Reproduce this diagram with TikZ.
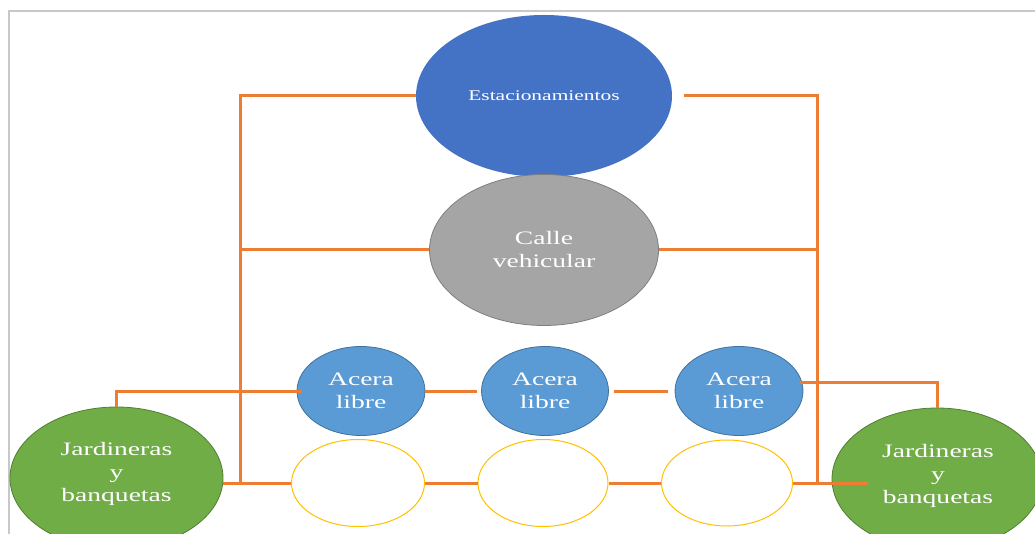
\documentclass[tikz,border=0pt]{standalone}
\usepackage{fontspec}
\setmainfont{Liberation Serif}[FakeStretch=1.45]
\usetikzlibrary{shapes.geometric,calc}
\definecolor{cBlue}{HTML}{4472C4}
\definecolor{cGrey}{HTML}{A5A5A5}
\definecolor{cGreyB}{HTML}{7F7F7F}
\definecolor{cLBlue}{HTML}{5B9BD5}
\definecolor{cLBlueB}{HTML}{41719C}
\definecolor{cGreen}{HTML}{70AD47}
\definecolor{cGreenB}{HTML}{507E32}
\definecolor{cYellow}{HTML}{FFC000}
\definecolor{cOrange}{HTML}{ED7D31}
\definecolor{cFrame}{HTML}{C8C8C8}
\tikzset{
  oval/.style={ellipse, inner sep=0pt, text=white, align=center},
  bigtxt/.style={font=\fontsize{19}{23}\selectfont},
  link/.style={draw=cOrange, line width=3pt}
}
\begin{document}
\begin{tikzpicture}[x=1pt,y=-1pt]
\useasboundingbox (0,0) rectangle (1035,534);
\draw[cFrame, line width=1.5pt] (9,534) -- (9,11) -- (1035,11);
% nodes
\node[oval, fill=cBlue, minimum width=256pt, minimum height=162pt,
      font=\fontsize{14.8}{17}\selectfont] (est) at (544,96) {Estacionamientos};
\node[oval, bigtxt, fill=cGrey, draw=cGreyB, line width=0.8pt,
      minimum width=229pt, minimum height=151pt] (calle) at (544,250) {Calle\\vehicular};
\node[oval, bigtxt, fill=cLBlue, draw=cLBlueB, line width=0.8pt,
      minimum width=128pt, minimum height=89pt] (a1) at (361,391) {Acera\\libre};
\node[oval, bigtxt, fill=cLBlue, draw=cLBlueB, line width=0.8pt,
      minimum width=127pt, minimum height=89pt] (a2) at (545,391) {Acera\\libre};
\node[oval, bigtxt, fill=cLBlue, draw=cLBlueB, line width=0.8pt,
      minimum width=128pt, minimum height=89pt] (a3) at (739,391) {Acera\\libre};
\node[oval, draw=cYellow, line width=1pt,
      minimum width=133pt, minimum height=87pt] (y1) at (358,483) {};
\node[oval, draw=cYellow, line width=1pt,
      minimum width=130pt, minimum height=87pt] (y2) at (543,483) {};
\node[oval, draw=cYellow, line width=1pt,
      minimum width=131pt, minimum height=86pt] (y3) at (727,483) {};
\node[oval, fill=cGreen, draw=cGreenB, line width=0.8pt,
      minimum width=213pt, minimum height=142pt] (gl) at (116.5,478) {};
\node[bigtxt, text=white, align=center] (glt) at (116.5,474) {Jardineras\\y\\banquetas};
\node[oval, fill=cGreen, draw=cGreenB, line width=0.8pt,
      minimum width=210pt, minimum height=142pt] (gr) at (937,479) {};
\node[bigtxt, text=white, align=center] (grt) at (938,476) {Jardineras\\y\\banquetas};
% coordinates of the buses
\coordinate (LB) at (240,483);
\coordinate (RB) at (817,483);
\coordinate (RE) at (868,483);
% connectors
\draw[link] (est.west) -| (LB);
\draw[link] (calle.west) -- (calle.west -| LB);
\draw[link] ([xshift=12pt]est.east) -| (RB);
\draw[link] (calle.east) -- (calle.east -| RB);
\draw[link] (y1.west -| gl.east) -- (y1.west);
\draw[link] (y1.east) -- (y2.west);
\draw[link] (y2.east) -- (y3.west);
\draw[link] (y3.east) -- (RE);
\draw[link] (a1.east) -- ([xshift=-4pt]a2.west);
\draw[link] ([xshift=5pt]a2.east) -- ([xshift=-7pt]a3.west);
\draw[link] (gl.north) |- ([xshift=5pt]a1.west);
\draw[link] ($(a3.east)+(-3,-9)$) -| (gr.north);
\end{tikzpicture}
\end{document}
